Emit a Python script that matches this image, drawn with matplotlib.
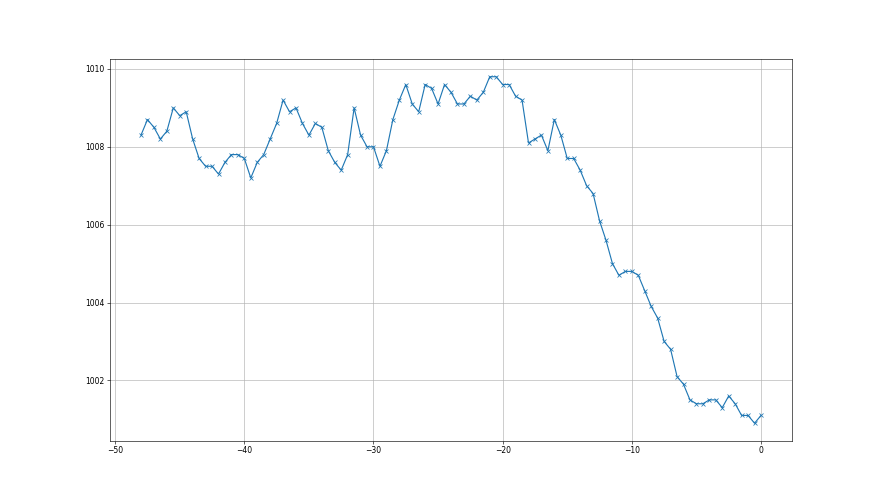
import matplotlib
matplotlib.use("Agg")
import matplotlib.pyplot as plt

# hours relative to the last reading
hours = [
    -48.0, -47.5, -47.0, -46.5, -46.0, -45.5, -45.0, -44.5, -44.0, -43.5,
    -43.0, -42.5, -42.0, -41.5, -41.0, -40.5, -40.0, -39.5, -39.0, -38.5,
    -38.0, -37.5, -37.0, -36.5, -36.0, -35.5, -35.0, -34.5, -34.0, -33.5,
    -33.0, -32.5, -32.0, -31.5, -31.0, -30.5, -30.0, -29.5, -29.0, -28.5,
    -28.0, -27.5, -27.0, -26.5, -26.0, -25.5, -25.0, -24.5, -24.0, -23.5,
    -23.0, -22.5, -22.0, -21.5, -21.0, -20.5, -20.0, -19.5, -19.0, -18.5,
    -18.0, -17.5, -17.0, -16.5, -16.0, -15.5, -15.0, -14.5, -14.0, -13.5,
    -13.0, -12.5, -12.0, -11.5, -11.0, -10.5, -10.0, -9.5, -9.0, -8.5,
    -8.0, -7.5, -7.0, -6.5, -6.0, -5.5, -5.0, -4.5, -4.0, -3.5,
    -3.0, -2.5, -2.0, -1.5, -1.0, -0.5, 0.0,
]

pressure = [
    1008.3, 1008.7, 1008.5, 1008.2, 1008.4, 1009.0, 1008.8, 1008.9, 1008.2, 1007.7,
    1007.5, 1007.5, 1007.3, 1007.6, 1007.8, 1007.8, 1007.7, 1007.2, 1007.6, 1007.8,
    1008.2, 1008.6, 1009.2, 1008.9, 1009.0, 1008.6, 1008.3, 1008.6, 1008.5, 1007.9,
    1007.6, 1007.4, 1007.8, 1009.0, 1008.3, 1008.0, 1008.0, 1007.5, 1007.9, 1008.7,
    1009.2, 1009.6, 1009.1, 1008.9, 1009.6, 1009.5, 1009.1, 1009.6, 1009.4, 1009.1,
    1009.1, 1009.3, 1009.2, 1009.4, 1009.8, 1009.8, 1009.6, 1009.6, 1009.3, 1009.2,
    1008.1, 1008.2, 1008.3, 1007.9, 1008.7, 1008.3, 1007.7, 1007.7, 1007.4, 1007.0,
    1006.8, 1006.1, 1005.6, 1005.0, 1004.7, 1004.8, 1004.8, 1004.7, 1004.3, 1003.9,
    1003.6, 1003.0, 1002.8, 1002.1, 1001.9, 1001.5, 1001.4, 1001.4, 1001.5, 1001.5,
    1001.3, 1001.6, 1001.4, 1001.1, 1001.1, 1000.9, 1001.1,
]

fig, ax = plt.subplots(figsize=(16, 9), dpi=55)
ax.plot(hours, pressure, "x-")
ax.grid(True)
fig.savefig("out.png")
